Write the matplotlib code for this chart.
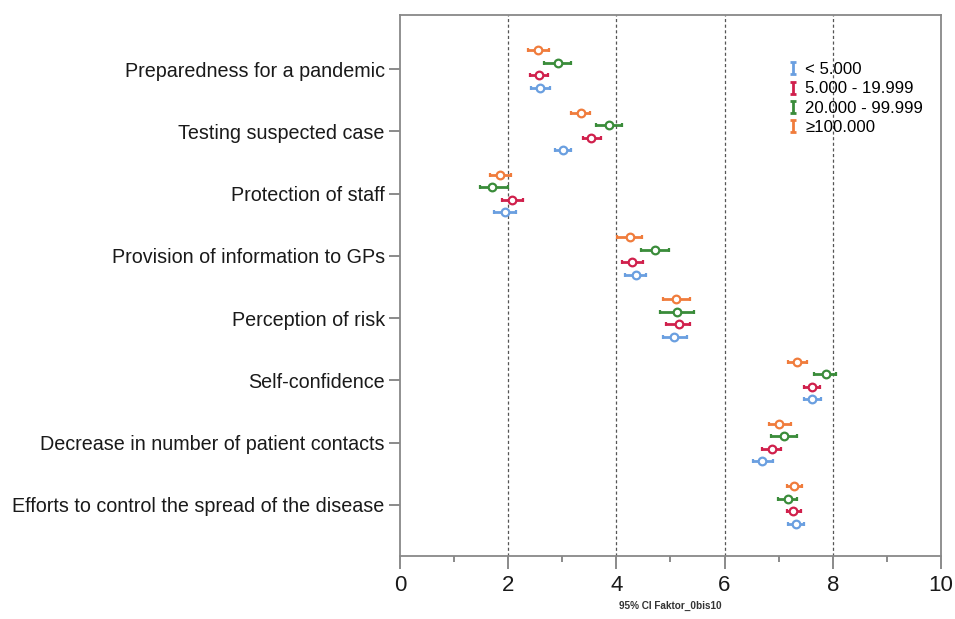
import numpy as np
import matplotlib
matplotlib.use("Agg")
import matplotlib.pyplot as plt
from matplotlib.path import Path
from matplotlib.lines import Line2D
from matplotlib.ticker import MultipleLocator

plt.rcParams['font.family'] = ['Liberation Sans', 'DejaVu Sans']

categories = ["Preparedness for a pandemic", "Testing suspected case", "Protection of staff",
              "Provision of information to GPs", "Perception of risk", "Self-confidence",
              "Decrease in number of patient contacts", "Efforts to control the spread of the disease"]

groups = ["< 5.000", "5.000 - 19.999", "20.000 - 99.999", "\u2265100.000"]

# mean, lower CI, upper CI per group
mean_lt5 = [2.59, 3.02, 1.94, 4.36, 5.07, 7.62, 6.70, 7.32]
lo_lt5 = [2.42, 2.87, 1.74, 4.16, 4.86, 7.47, 6.52, 7.18]
hi_lt5 = [2.77, 3.17, 2.14, 4.55, 5.30, 7.78, 6.89, 7.46]

mean_5_20 = [2.57, 3.54, 2.08, 4.29, 5.15, 7.61, 6.87, 7.27]
lo_5_20 = [2.40, 3.38, 1.88, 4.10, 4.92, 7.47, 6.69, 7.15]
hi_5_20 = [2.74, 3.71, 2.27, 4.49, 5.36, 7.76, 7.04, 7.41]

mean_20_100 = [2.93, 3.86, 1.71, 4.71, 5.13, 7.87, 7.10, 7.17]
lo_20_100 = [2.66, 3.62, 1.48, 4.45, 4.81, 7.66, 6.85, 6.99]
hi_20_100 = [3.17, 4.10, 2.00, 4.97, 5.44, 8.06, 7.33, 7.34]

mean_ge100 = [2.56, 3.34, 1.85, 4.25, 5.11, 7.34, 7.01, 7.29]
lo_ge100 = [2.37, 3.17, 1.66, 4.01, 4.87, 7.18, 6.83, 7.15]
hi_ge100 = [2.75, 3.51, 2.05, 4.48, 5.36, 7.52, 7.22, 7.44]

colors = ["#6a9fe0", "#d0204c", "#3a8c3a", "#f07c3c"]
offsets = [0.3, 0.1, -0.1, -0.3]

series = [(mean_lt5, lo_lt5, hi_lt5), (mean_5_20, lo_5_20, hi_5_20),
          (mean_20_100, lo_20_100, hi_20_100), (mean_ge100, lo_ge100, hi_ge100)]

fig = plt.figure(figsize=(9.55, 6.19), dpi=100)
ax = fig.add_axes([0.4188, 0.1018, 0.5665, 0.874])

y = np.arange(len(categories))
for (m, lo, hi), c, off in zip(series, colors, offsets):
    m = np.array(m)
    err = [m - np.array(lo), np.array(hi) - m]
    ax.errorbar(m, y + off, xerr=err, fmt='o', color=c, ecolor=c, elinewidth=2,
                capsize=1.2, capthick=2, markersize=5.5, markerfacecolor='white',
                markeredgewidth=1.6, zorder=3)

for xv in [2, 4, 6, 8]:
    ax.axvline(xv, color='#555555', linestyle=(0, (2.5, 2)), linewidth=0.9, zorder=1)

ax.set_xlim(0, 10)
ax.set_ylim(7.82, -0.87)
ax.set_yticks(y)
ax.set_yticklabels(categories, fontsize=14.2, color='#1a1a1a')
ax.xaxis.set_major_locator(MultipleLocator(2))
ax.xaxis.set_minor_locator(MultipleLocator(1))
ax.tick_params(axis='x', which='major', length=9, width=1.2, color='#777777', labelsize=16, pad=5, labelcolor='#1a1a1a')
ax.tick_params(axis='x', which='minor', length=4.5, width=1.2, color='#777777')
ax.tick_params(axis='y', length=8, width=1.2, color='#777777', pad=3)
for s in ax.spines.values():
    s.set_color('#888888')
    s.set_linewidth(1.3)

ax.set_xlabel("95% CI Faktor_0bis10", fontsize=7.2, fontweight='bold', color='#333333', labelpad=3)

ibar = Path([(-0.5, -1), (0.5, -1), (0, -1), (0, 1), (-0.5, 1), (0.5, 1)],
            [Path.MOVETO, Path.LINETO, Path.MOVETO, Path.LINETO, Path.MOVETO, Path.LINETO])
handles = [Line2D([], [], linestyle='none', marker=ibar, markersize=9, markeredgewidth=2,
                  color=c) for c in colors]
ax.legend(handles, groups, loc='upper left', bbox_to_anchor=(0.707, 0.925), frameon=False,
          fontsize=12.1, handlelength=0.5, handletextpad=0.45, labelspacing=0.25,
          borderaxespad=0)

fig.savefig("out.png", dpi=100)
